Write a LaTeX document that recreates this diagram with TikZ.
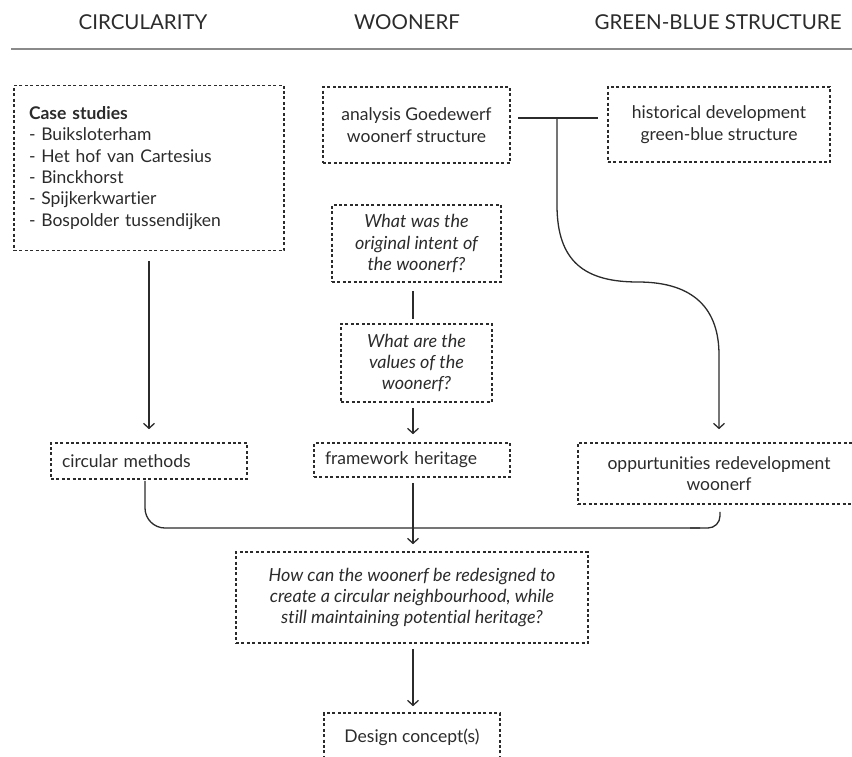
\documentclass[tikz,border=0pt]{standalone}
\usepackage{fontspec}
\setmainfont{Lato}[Ligatures={NoCommon}]
\usetikzlibrary{arrows.meta}
\definecolor{ink}{HTML}{2B2B2B}
\definecolor{rule}{HTML}{8A8A8A}
\tikzset{
  x=1pt, y=-1pt,
  box/.style={draw=ink, line width=1.6pt, dash pattern=on 3pt off 2.4pt, inner sep=0pt,
    text=ink, font=\fontsize{17.5}{21.3}\selectfont, align=center},
  qbox/.style={box, font=\fontsize{18}{21.3}\selectfont\itshape},
  conn/.style={draw=ink, line width=1.3pt},
  arr/.style={conn, -{Straight Barb[length=5pt,width=11pt,line width=1.3pt]}},
  head/.style={text=ink, font=\fontsize{20.5}{24}\selectfont, inner sep=0pt},
}
\begin{document}
\begin{tikzpicture}
\useasboundingbox (0,0) rectangle (852,756);
\clip (0,0) rectangle (852,756);
% headings
\node[head] (hc) at (143,22) {CIRCULARITY};
\node[head] (hw) at (407,22) {WOONERF};
\node[head] (hg) at (718,22) {GREEN-BLUE STRUCTURE};
\coordinate (rl) at (11,49);
\coordinate (rr) at (852,49);
\draw[draw=rule, line width=1.5pt] (rl) -- (rr);
% boxes
\node[box, minimum width=270, minimum height=165, text width=240, align=left] (cs) at (149,168)
  {\textbf{Case studies}\\- Buiksloterham\\- Het hof van Cartesius\\- Binckhorst\\- Spijkerkwartier\\- Bospolder tussendijken};
\node[box, minimum width=187, minimum height=76] (an) at (416.5,125) {analysis Goedewerf\\woonerf structure};
\node[box, minimum width=222, minimum height=75] (hi) at (719,124.5) {historical development\\green-blue structure};
\node[qbox, minimum width=169, minimum height=77] (q1) at (416.5,243.5) {What was the\\original intent of\\the woonerf?};
\node[qbox, minimum width=151, minimum height=78] (q2) at (416.5,363) {What are the\\values of the\\woonerf?};
\node[box, minimum width=196, minimum height=36, text width=174, align=left] (cm) at (149,461) {circular methods};
\node[box, minimum width=196, minimum height=34, text width=174, align=left] (fh) at (412,460) {framework heritage};
\node[box, minimum width=282, minimum height=61] (op) at (719,473.5) {oppurtunities redevelopment\\woonerf};
\node[qbox, minimum width=352, minimum height=91] (rq) at (412,597.5) {How can the woonerf be redesigned to\\create a circular neighbourhood, while\\still maintaining potential heritage?};
\node[box, minimum width=176, minimum height=48] (dc) at (412,737) {Design concept(s)};
% connectors
\coordinate (tl) at (518,118);
\coordinate (tr) at (598,118);
\coordinate (tj) at (557,118);
\draw[conn] (tl) -- (tr);
\draw[arr] (tj) -- (557,205) .. controls (557,262) and (585,282) .. (638,282)
  .. controls (695,282) and (719,310) .. (719,355) -- ([yshift=13pt]op.north);
\draw[arr] ([yshift=-10pt]cs.south) -- ([yshift=13pt]cm.north);
\draw[conn] ([yshift=-8pt]q1.south -| 413,0) -- ([yshift=4pt]q2.north -| 413,0);
\draw[arr] ([yshift=-5pt]q2.south -| 413,0) -- ([yshift=8pt]fh.north -| 413,0);
\draw[arr] ([yshift=-5pt]fh.south -| 413,0) -- ([yshift=7pt]rq.north -| 413,0);
\draw[conn, rounded corners=20pt] ([yshift=-1pt]cm.south -| 145,0) -- (145,528) -- (700,528);
\draw[conn, rounded corners=12pt] (690,528) -- (720,528) -- ([yshift=-7pt]op.south -| 720,0);
\draw[arr] ([yshift=-5pt]rq.south -| 413,0) -- ([yshift=6pt]dc.north -| 413,0);
\end{tikzpicture}
\end{document}
